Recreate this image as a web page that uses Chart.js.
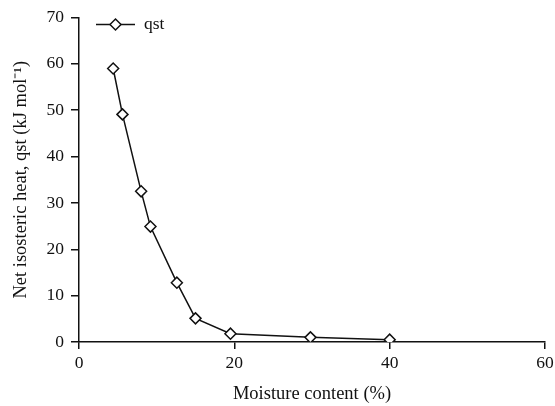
<!DOCTYPE html>
<html>
<head>
<meta charset="utf-8">
<script src="https://cdn.jsdelivr.net/npm/chart.js@4"></script>
<style>
  html, body { margin: 0; padding: 0; background: #fff; }
  #wrap { width: 555px; height: 406px; }
</style>
</head>
<body>
<div id="wrap"><canvas id="c" width="555" height="406"></canvas></div>
<script>
// moisture content (%) vs net isosteric heat qst (kJ/mol)
const moisture = [4.4, 5.6, 8.0, 9.2, 12.6, 15.0, 19.5, 29.8, 40.0];
const qst = [59.0, 49.1, 32.5, 24.9, 12.8, 5.1, 1.8, 1.0, 0.5];
const xTicks = [0, 20, 40, 60];
const yTicks = [0, 10, 20, 30, 40, 50, 60, 70];

const serif = "'Liberation Serif', 'Times New Roman', serif";
const ink = '#111';

// legend drawn by hand: short line with the marker on it, then the label
const legendPlugin = {
  id: 'lineLegend',
  afterDraw(chart) {
    const ctx = chart.ctx;
    const a = chart.chartArea;
    const y = a.top + 7;
    const x0 = a.left + 17;
    const x1 = a.left + 56;
    const cx = (x0 + x1) / 2;
    ctx.save();
    ctx.strokeStyle = ink;
    ctx.lineWidth = 1.5;
    ctx.beginPath();
    ctx.moveTo(x0, y);
    ctx.lineTo(x1, y);
    ctx.stroke();
    ctx.beginPath();
    const r = 5.5;
    ctx.moveTo(cx - r, y);
    ctx.lineTo(cx, y - r);
    ctx.lineTo(cx + r, y);
    ctx.lineTo(cx, y + r);
    ctx.closePath();
    ctx.fillStyle = '#fff';
    ctx.fill();
    ctx.stroke();
    ctx.fillStyle = ink;
    ctx.font = '17.5px ' + serif;
    ctx.textBaseline = 'middle';
    ctx.fillText('qst', x1 + 9, y);
    ctx.restore();
  }
};

new Chart(document.getElementById('c').getContext('2d'), {
  type: 'scatter',
  data: {
    datasets: [
      {
        label: 'qst',
        data: moisture.map((m, i) => ({ x: m, y: qst[i] })),
        showLine: true,
        borderColor: ink,
        borderWidth: 1.5,
        pointStyle: 'rectRot',
        pointRadius: 5.5,
        pointBorderWidth: 1.5,
        pointBackgroundColor: '#fff',
        pointBorderColor: ink,
        tension: 0
      }
    ]
  },
  options: {
    responsive: false,
    animation: false,
    devicePixelRatio: 1,
    layout: { padding: { top: 15, right: 10, left: 0, bottom: 0 } },
    plugins: { legend: { display: false }, tooltip: { enabled: false } },
    scales: {
      x: {
        type: 'linear',
        min: 0,
        max: 60,
        afterBuildTicks: (s) => { s.ticks = xTicks.map((v) => ({ value: v })); },
        afterFit: (s) => { s.height = 64; s.paddingRight = 9; },
        border: { display: true, color: ink, width: 1.5 },
        grid: { drawOnChartArea: false, color: ink, lineWidth: 1.5, tickLength: 7 },
        ticks: { color: ink, font: { family: serif, size: 17.5 }, padding: 4, maxRotation: 0 },
        title: { display: true, text: 'Moisture content (%)', color: ink, font: { family: serif, size: 18.5 }, padding: { top: 0, bottom: 1 } }
      },
      y: {
        type: 'linear',
        min: 0,
        max: 70,
        afterBuildTicks: (s) => { s.ticks = yTicks.map((v) => ({ value: v })); },
        afterFit: (s) => { s.width = 79; },
        border: { display: true, color: ink, width: 1.5 },
        grid: { drawOnChartArea: false, color: ink, lineWidth: 1.5, tickLength: 8 },
        ticks: { color: ink, font: { family: serif, size: 17.5 }, padding: 7 },
        title: { display: true, text: 'Net isosteric heat, qst (kJ mol\u207B\u00B9)', color: ink, font: { family: serif, size: 18.5 }, padding: { top: 10, bottom: 0 } }
      }
    }
  },
  plugins: [legendPlugin]
});
</script>
</body>
</html>
